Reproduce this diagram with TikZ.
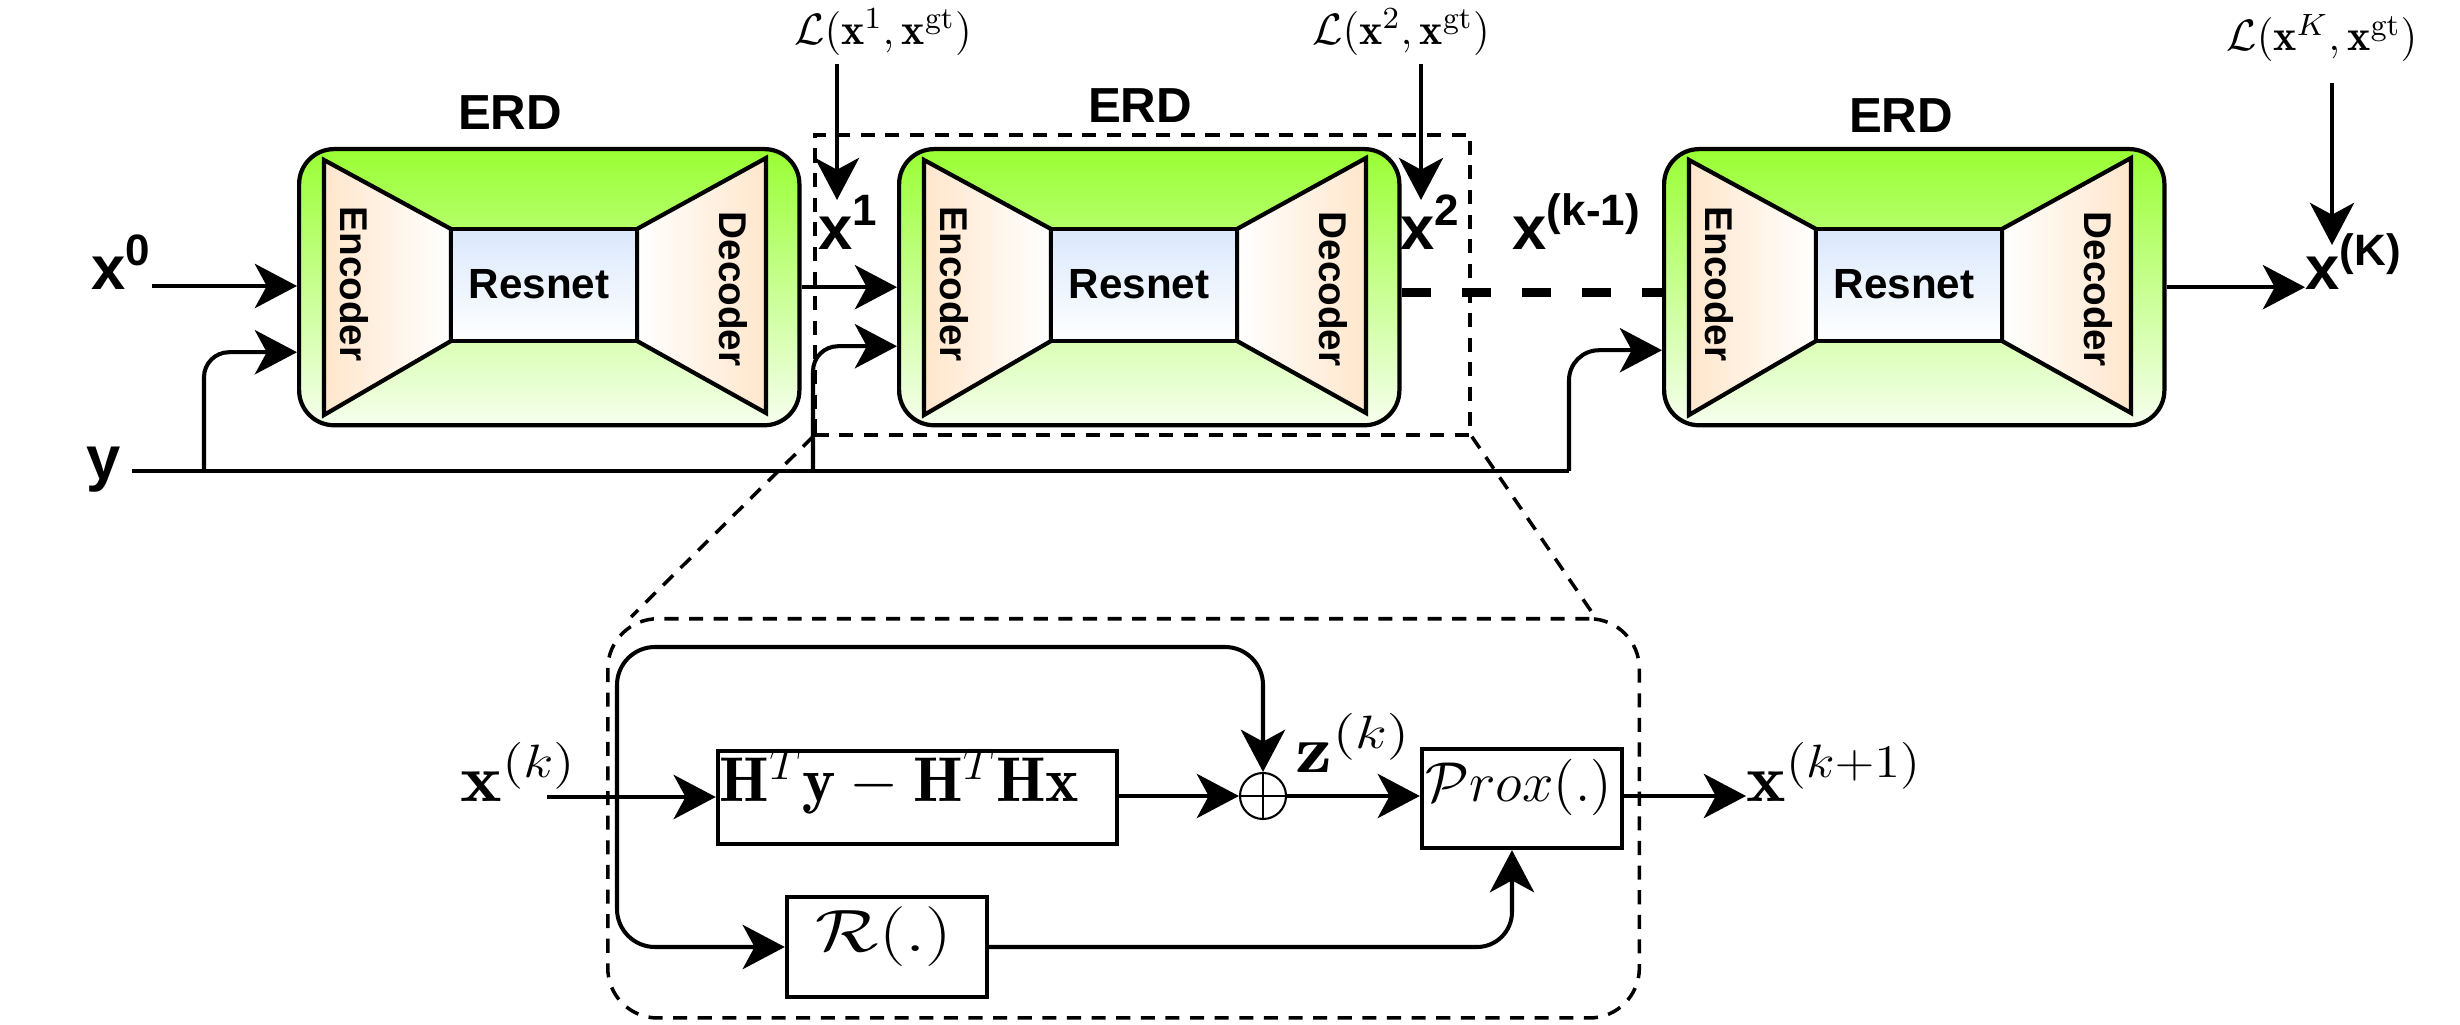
\RequirePackage{fix-cm}
\documentclass[tikz,border=0pt]{standalone}
\usepackage{fontspec}
\setsansfont{Liberation Sans}
\usetikzlibrary{arrows.meta}

\definecolor{erdgreen}{RGB}{153,255,51}
\definecolor{erdlight}{RGB}{246,255,238}
\definecolor{peach}{RGB}{255,230,204}
\definecolor{resblue}{RGB}{218,232,252}

\tikzset{
  erdbox/.style={draw, line width=1.2pt, rounded corners=0.35cm, minimum width=5cm, minimum height=2.76cm, top color=erdgreen, bottom color=erdlight, inner sep=0},
  trap/.style={draw, line width=1.2pt, line join=miter},
  resbox/.style={draw, line width=1.4pt, top color=resblue, bottom color=white},
  sflab/.style={font=\sffamily\bfseries\fontsize{11}{13}\selectfont, inner sep=0},
  erdlab/.style={font=\sffamily\bfseries\fontsize{14}{16}\selectfont, inner sep=0, anchor=base},
  toplab/.style={font=\sffamily\bfseries, inner sep=0, anchor=base west},
  losslab/.style={inner sep=0, font=\fontsize{12.5}{15}\selectfont},
  bmath/.style={inner sep=0, anchor=base west, font=\fontsize{19}{22}\selectfont},
  conn/.style={line width=1.15pt},
  arr/.style={conn, -{Stealth[length=12pt,width=12.6pt,inset=3.4pt]}},
  thickdash/.style={line width=2.6pt, dash pattern=on 8.3pt off 8.8pt},
  zoomdash/.style={line width=1pt, dash pattern=on 4pt off 3pt},
  blk/.style={draw, line width=1.2pt, inner sep=0},
}

\newcommand{\erdblock}[3]{%
  \node[erdbox, anchor=north west] (#1) at (#2,#3) {};
  \begin{scope}[shift={(#2,#3)}]
    \draw[trap, left color=peach, right color=white] (27,13) -- (154,82) -- (154,194) -- (27,268) -- cycle;
    \draw[trap, left color=white, right color=peach] (340,82) -- (469,11) -- (469,266) -- (340,194) -- cycle;
    \draw[resbox] (154,82) rectangle (340,194);
    \node[sflab, rotate=-90] (#1enc) at (57,137) {Encoder};
    \node[sflab, rotate=-90] (#1dec) at (436,142) {Decoder};
    \node[sflab, anchor=base, font=\sffamily\bfseries\fontsize{12}{14}\selectfont] (#1res) at (242,152) {Resnet};
  \end{scope}}

\newcommand{\bxlab}[1]{{\fontsize{17.5}{20}\selectfont x}\raisebox{7pt}{\fontsize{12.5}{14}\selectfont #1}}

\begin{document}
\begin{tikzpicture}[x=0.01cm, y=-0.01cm]
\useasboundingbox (0,0) rectangle (2460,1025);
\fill[white] (0,0) rectangle (2460,1025);

% ---------- ERD blocks ----------
\erdblock{erd1}{297}{147}
\erdblock{erd2}{897}{147}
\erdblock{erd3}{1662}{147}

\node[erdlab] (erdlab1) at (510,130) {ERD};
\node[erdlab] (erdlab2) at (1140,123) {ERD};
\node[erdlab] (erdlab3) at (1901,133) {ERD};

% dashed frame around second block
\node[draw, zoomdash, minimum width=6.55cm, minimum height=3cm, anchor=north west, inner sep=0] (dbox) at (813,133) {};

% ---------- top labels ----------
\node[toplab] (x0) at (91,290) {\bxlab{0}};
\node[toplab] (x1) at (818,250) {\bxlab{1}};
\node[toplab] (x2) at (1400,250) {\bxlab{2}};
\node[toplab] (xkm) at (1512,250) {\bxlab{(k-1)}};
\node[toplab] (xK) at (2305,290) {\bxlab{(K)}};
\node[toplab] (ylab) at (86,480) {\fontsize{17.5}{20}\selectfont y};

\node[losslab] (L1) at (883,32) {$\mathcal{L}\big(\mathbf{x}^{1},\mathbf{x}^{\mathrm{gt}}\big)$};
\node[losslab] (L2) at (1401,32) {$\mathcal{L}\big(\mathbf{x}^{2},\mathbf{x}^{\mathrm{gt}}\big)$};
\node[losslab] (L3) at (2322,38) {$\mathcal{L}\big(\mathbf{x}^{K},\mathbf{x}^{\mathrm{gt}}\big)$};

% ---------- top connectors ----------
\coordinate (l1a) at (837,64);  \coordinate (l1b) at (837,200);
\coordinate (l2a) at (1421,64); \coordinate (l2b) at (1421,200);
\coordinate (l3a) at (2332,83); \coordinate (l3b) at (2332,245);
\draw[arr] (l1a) -- (l1b);
\draw[arr] (l2a) -- (l2b);
\draw[arr] (l3a) -- (l3b);

\coordinate (x0s) at (152,286);
\draw[arr] (x0s) -- (x0s -| erd1.west);
\draw[arr] (erd1.east) -- (erd2.west);
\draw[thickdash] ([yshift=-0.05cm]erd2.east) -- ([yshift=-0.05cm]erd3.west);
\draw[arr] (erd3.east) -- (erd3.east -| xK.west);

\coordinate (ys) at (132,471);
\coordinate (yA) at (204,471);
\coordinate (yB) at (813,471);
\coordinate (yC) at (1569,471);
\draw[conn] (ys) -- (yC);
\draw[arr, rounded corners=0.25cm] (yA) |- ([yshift=-0.65cm]erd1.west);
\draw[arr, rounded corners=0.25cm] (yB) |- ([yshift=-0.59cm]erd2.west);
\draw[arr, rounded corners=0.3cm] (yC) |- ([yshift=-0.63cm]erd3.west);

% ---------- bottom panel ----------
\node[draw, zoomdash, rounded corners=0.5cm, minimum width=10.31cm, minimum height=3.99cm, anchor=north west, inner sep=0] (panel) at (606,617) {};
\draw[zoomdash] (dbox.south west) -- ([xshift=0.25cm]panel.north west);
\draw[zoomdash] (dbox.south east) -- ([xshift=-0.46cm]panel.north east);

\node[bmath] (xk) at (460,802) {\scalebox{1.18}[1]{$\mathbf{x}^{(k)}$}};
\node[blk, minimum width=3.99cm, minimum height=0.93cm] (hbox) at (917.5,797.5) {};
\node[bmath, font=\fontsize{18}{21}\selectfont] (htext) at (719,802) {$\mathbf{H}^T\mathbf{y}-\mathbf{H}^T\mathbf{H}\mathbf{x}$};
\node[draw, circle, line width=0.6pt, minimum size=0.46cm, inner sep=0] (oplus) at (1263,796) {};
\draw[line width=0.6pt] (oplus.north) -- (oplus.south) (oplus.west) -- (oplus.east);
\node[bmath] (zk) at (1295,773) {\scalebox{1.25}[1]{$\mathbf{z}^{(k)}$}};
\node[blk, minimum width=2cm, minimum height=0.99cm] (prox) at (1522,798.5) {};
\node[bmath, font=\fontsize{16}{19}\selectfont] (ptext) at (1425,802) {$\mathcal{P}rox(.)$};
\node[bmath] (xk1) at (1746,802) {\scalebox{1.12}[1]{$\mathbf{x}^{(k+1)}$}};
\node[blk, minimum width=2cm, minimum height=1cm] (rbox) at (887,947) {};
\node[bmath, font=\fontsize{17}{20}\selectfont] (rtext) at (815,952) {\scalebox{1.25}[1]{$\mathcal{R}(.)$}};

\coordinate (xkout) at (547,797);
\coordinate (J) at (617,797);
\coordinate (looptop) at (1263,647);
\draw[arr] (xkout) -- (xkout -| hbox.west);
\draw[arr] (hbox.east |- oplus) -- (oplus.west);
\draw[arr] (oplus.east) -- (oplus.east -| prox.west);
\draw[arr] (prox.east |- oplus) -- (xk1.west |- oplus);
\draw[arr, rounded corners=0.38cm] (J) |- (looptop) -- (oplus.north);
\draw[arr, rounded corners=0.38cm] (J) |- (rbox.west);
\draw[arr, rounded corners=0.35cm] (rbox.east) -| ([xshift=-0.1cm]prox.south);
\end{tikzpicture}
\end{document}
